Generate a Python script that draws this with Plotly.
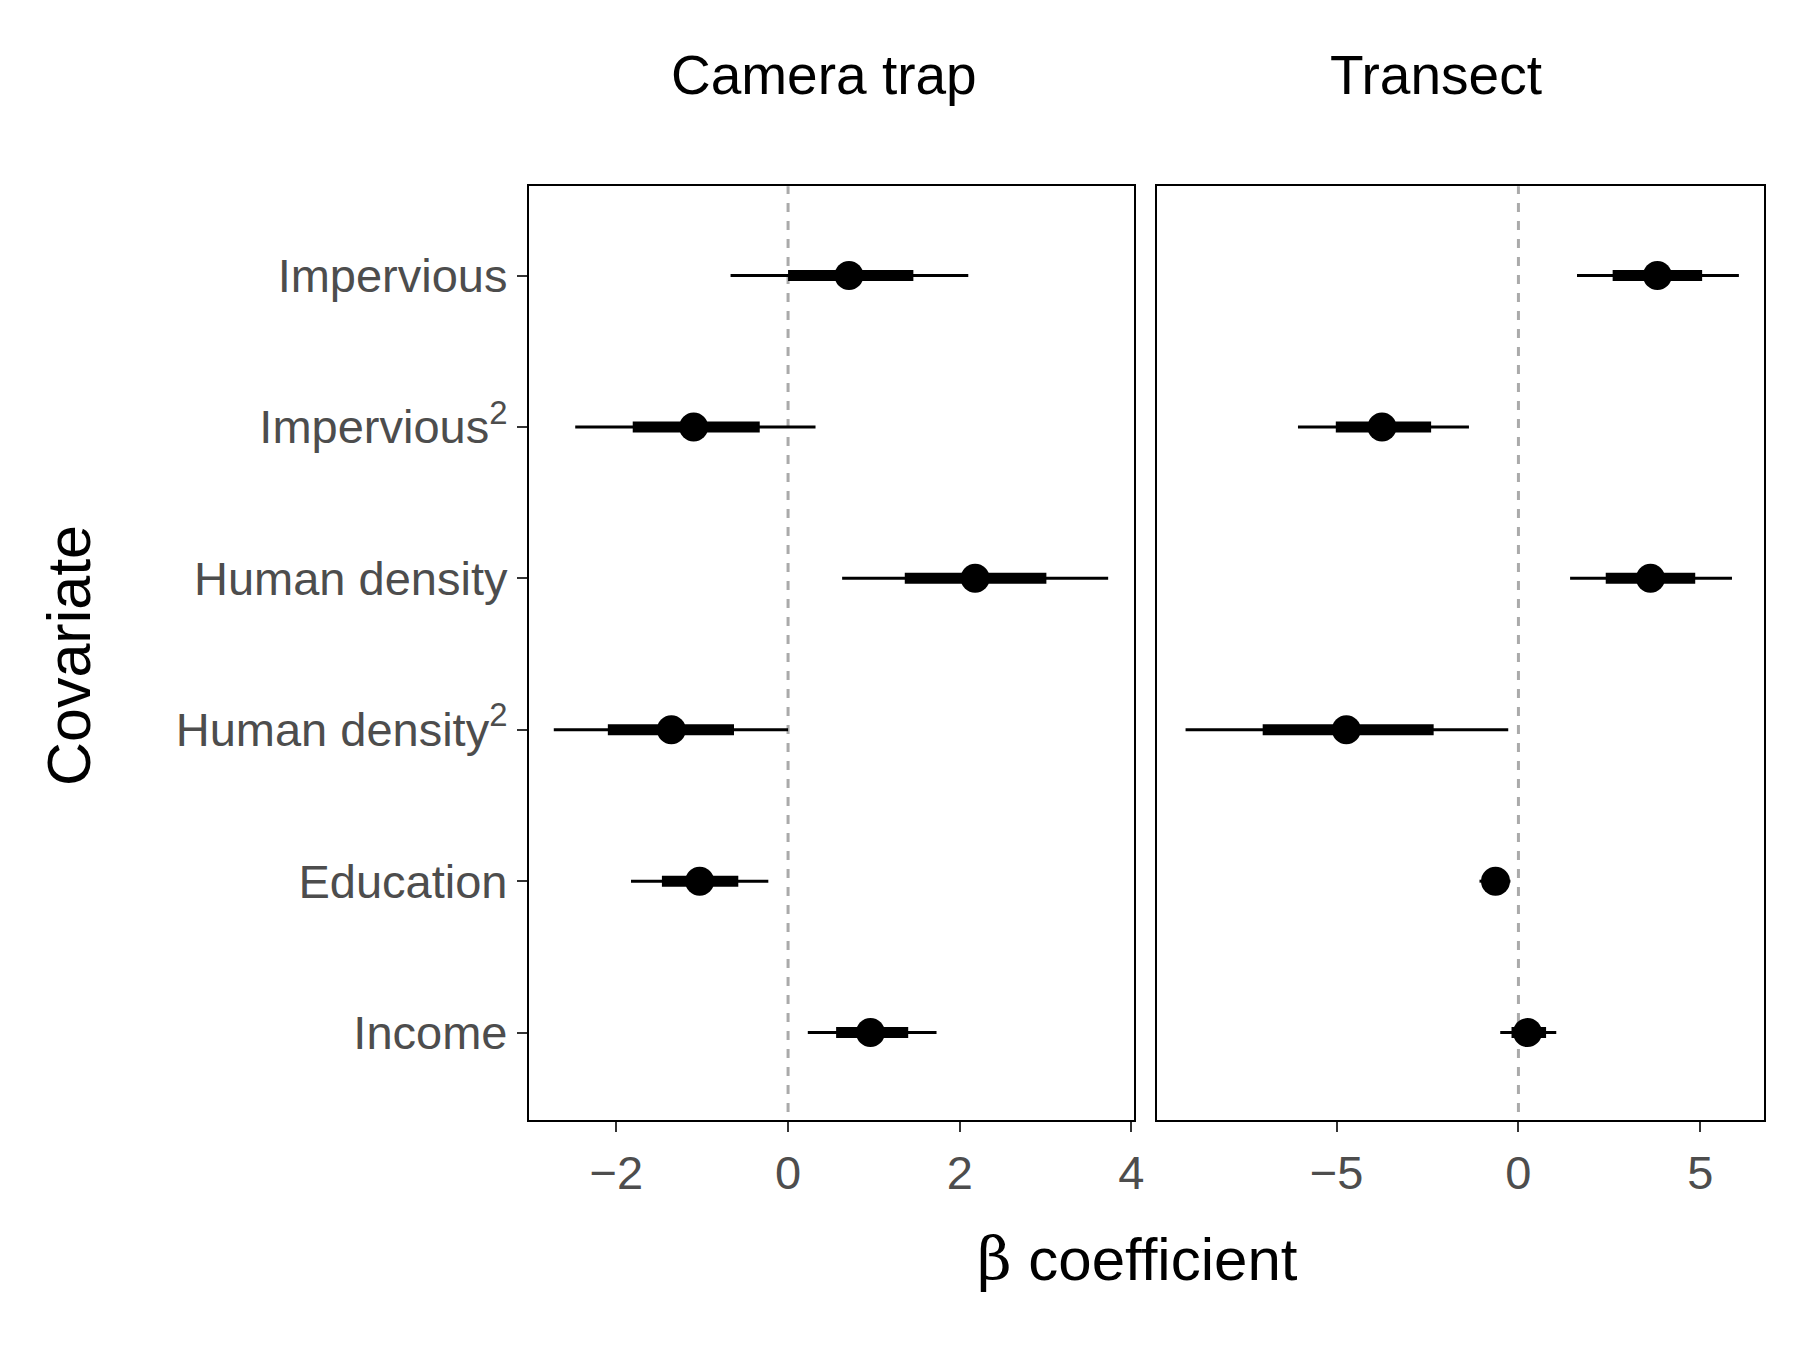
import plotly.graph_objects as go

# =========================
# DATA
# =========================
covariates = ["Impervious", "Impervious<sup>2</sup>", "Human density",
              "Human density<sup>2</sup>", "Education", "Income"]
ypos = [6, 5, 4, 3, 2, 1]

cam_est = [0.71, -1.10, 2.18, -1.36, -1.03, 0.96]
cam_lo95 = [-0.67, -2.48, 0.63, -2.73, -1.83, 0.23]
cam_hi95 = [2.10, 0.32, 3.73, 0.00, -0.23, 1.73]
cam_lo50 = [0.00, -1.81, 1.36, -2.10, -1.47, 0.56]
cam_hi50 = [1.46, -0.33, 3.01, -0.63, -0.58, 1.40]

tr_est = [3.82, -3.75, 3.63, -4.73, -0.63, 0.25]
tr_lo95 = [1.61, -6.06, 1.42, -9.15, -1.07, -0.50]
tr_hi95 = [6.06, -1.36, 5.87, -0.28, -0.22, 1.04]
tr_lo50 = [2.59, -5.02, 2.40, -7.03, -0.91, -0.19]
tr_hi50 = [5.05, -2.40, 4.86, -2.33, -0.38, 0.76]

panels = [
    ("Camera trap", cam_est, cam_lo95, cam_hi95, cam_lo50, cam_hi50, "x", "y", [-3.02, 4.03], [-2, 0, 2, 4]),
    ("Transect", tr_est, tr_lo95, tr_hi95, tr_lo50, tr_hi50, "x2", "y2", [-9.93, 6.75], [-5, 0, 5]),
]

fig = go.Figure()

for name, est, lo95, hi95, lo50, hi50, xa, ya, xr, tv in panels:
    # zero line
    fig.add_trace(go.Scatter(x=[0, 0], y=[0, 7], mode="lines", xaxis=xa, yaxis=ya,
                             line=dict(color="#aaaaaa", width=3, dash="dash"),
                             showlegend=False, hoverinfo="skip"))
    for i in range(len(ypos)):
        fig.add_trace(go.Scatter(x=[lo95[i], hi95[i]], y=[ypos[i], ypos[i]], mode="lines",
                                 xaxis=xa, yaxis=ya, line=dict(color="black", width=3),
                                 showlegend=False))
        fig.add_trace(go.Scatter(x=[lo50[i], hi50[i]], y=[ypos[i], ypos[i]], mode="lines",
                                 xaxis=xa, yaxis=ya, line=dict(color="black", width=11),
                                 showlegend=False))
    fig.add_trace(go.Scatter(x=est, y=ypos, mode="markers", xaxis=xa, yaxis=ya,
                             marker=dict(color="black", size=29), showlegend=False))

axis_common = dict(showgrid=False, zeroline=False, showline=True, mirror=True,
                   linecolor="black", linewidth=2, ticklen=10,
                   tickwidth=2, tickcolor="#333333",
                   tickfont=dict(size=47, color="#4d4d4d"))

fig.update_layout(
    width=1800, height=1350,
    margin=dict(l=0, r=0, t=0, b=0),
    paper_bgcolor="white", plot_bgcolor="white",
    font=dict(family="Liberation Sans, Arial", color="black"),
    xaxis=dict(domain=[0.291, 0.629], range=panels[0][8], tickvals=panels[0][9],
               ticks="outside", **axis_common),
    xaxis2=dict(domain=[0.642, 0.981], range=panels[1][8], tickvals=panels[1][9],
                ticks="outside", **axis_common),
    yaxis=dict(domain=[0.176, 0.868], range=[0.42, 6.59], tickvals=ypos,
               ticktext=covariates, anchor="x", ticks="outside", **axis_common),
    yaxis2=dict(domain=[0.176, 0.868], range=[0.42, 6.59], tickvals=ypos,
                showticklabels=False, anchor="x2", ticks="", **axis_common),
    annotations=[
        dict(text="Camera trap", x=0.456, y=0.975, xref="paper", yref="paper",
             showarrow=False, font=dict(size=55)),
        dict(text="Transect", x=0.858, y=0.975, xref="paper", yref="paper",
             showarrow=False, font=dict(size=55)),
        dict(text="Covariate", x=0.014, y=0.52, xref="paper", yref="paper",
             showarrow=False, textangle=-90, font=dict(size=61)),
        dict(text="<span style='font-family:DejaVu Serif'>β</span> coefficient",
             x=0.631, y=0.046, xref="paper", yref="paper",
             showarrow=False, font=dict(size=60)),
    ],
)

fig.write_html("out.html")
